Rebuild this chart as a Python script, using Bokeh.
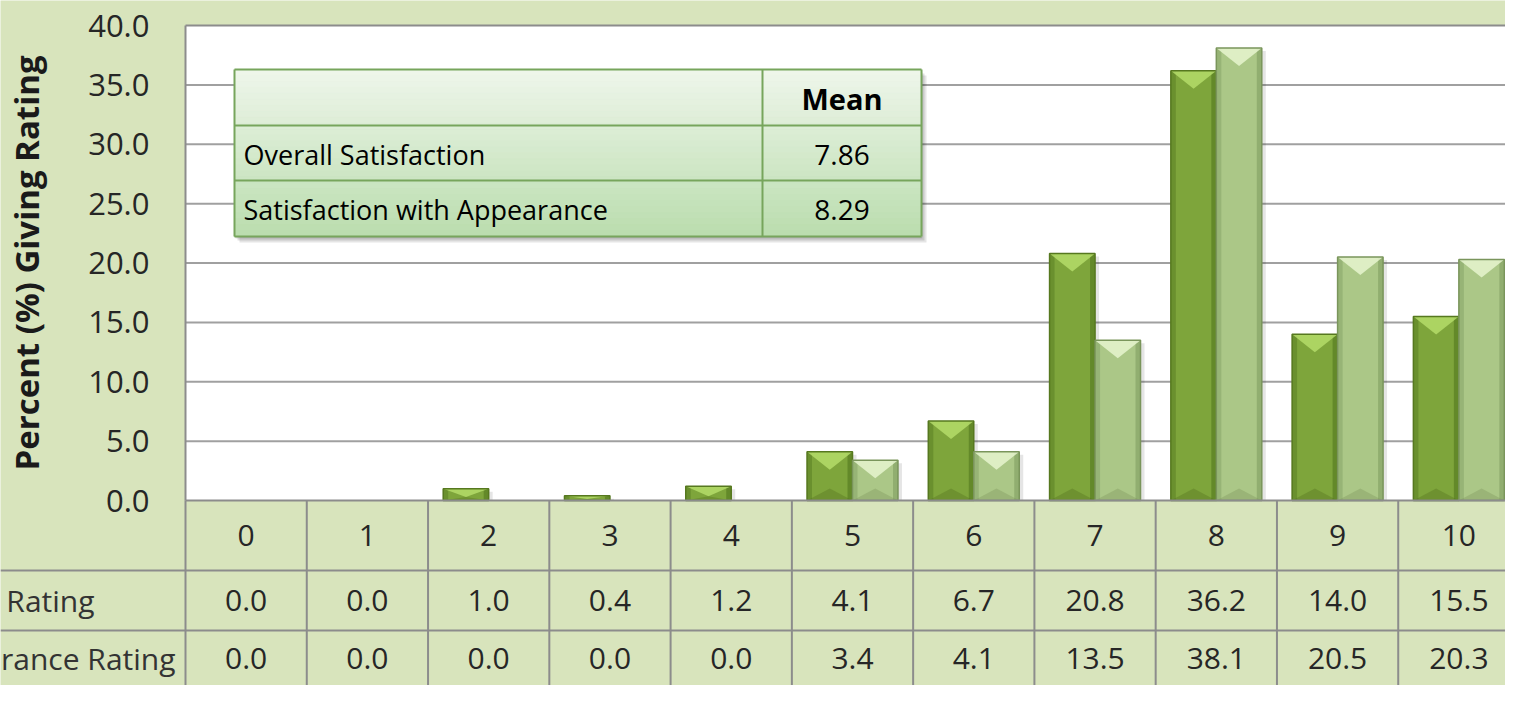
import numpy as np
from bokeh.plotting import figure
from bokeh.models import Range1d, LinearAxis, FixedTicker, NumeralTickFormatter
from bokeh.core.properties import value
from bokeh.embed import file_html
from bokeh.resources import INLINE

# ---------------- data ----------------
categories = ["0", "1", "2", "3", "4", "5", "6", "7", "8", "9", "10"]
overall = [0.0, 0.0, 1.0, 0.4, 1.2, 4.1, 6.7, 20.8, 36.2, 14.0, 15.5]
appearance = [0.0, 0.0, 0.0, 0.0, 0.0, 3.4, 4.1, 13.5, 38.1, 20.5, 20.3]
series_names = ["Overall Satisfaction Rating", "Satisfaction with Appearance Rating"]
mean_header = "Mean"
mean_labels = ["Overall Satisfaction", "Satisfaction with Appearance"]
mean_values = [7.86, 8.29]
y_ticks = [0, 5, 10, 15, 20, 25, 30, 35, 40]
y_title = "Percent (%) Giving Rating"

# ---------------- layout (pixel geometry of the reference) ----------------
W, H, OFF = 1505, 685, 0
PL, PR, PT, PB = 185, 1519, 25, 500
YMAX = 40.0
ncat = len(categories)
cw = (PR - PL) / ncat
ppu = (PB - PT) / YMAX


def dx(px):
    return (px - PL) / cw - 0.5


def dy(py):
    return (PB - py) / ppu


BG = "#d8e4bc"
GRID = "#a0a0a0"
TLINE = "#8c8c8c"
FONT = "Open Sans"

p = figure(width=W, height=H,
           x_range=Range1d(dx(OFF), dx(OFF + W)),
           y_range=Range1d(dy(OFF + H), dy(OFF)),
           output_backend="svg", toolbar_location=None,
           x_axis_location=None, y_axis_location=None,
           min_border=0, background_fill_color=BG, border_fill_color=BG,
           outline_line_color=None)
for g in p.grid:
    g.visible = False

xl, xr = -0.5, ncat - 0.5

# plot area
p.quad(left=[xl], right=[xr], bottom=[0], top=[YMAX], fill_color="white", line_color=None)
grid_y = [t for t in y_ticks if 0 < t < YMAX]
p.segment(x0=[xl] * len(grid_y), x1=[xr] * len(grid_y), y0=grid_y, y1=grid_y,
          line_color=GRID, line_width=2)
p.segment(x0=[xl, xl, xr], x1=[xr, xl, xr], y0=[YMAX, 0, 0], y1=[YMAX, YMAX, YMAX],
          line_color=TLINE, line_width=2)

# ---------------- bars ----------------
bw = 0.375
idx = np.arange(ncat)
styles = [
    dict(fill="#7ea53b", edge="#56781f", side="#5d8226", hi="#b4dc6a", low="#4f6e1c"),
    dict(fill="#abc787", edge="#7a955b", side="#8ba76a", hi="#e6f5cf", low="#7a9358"),
]
sh_dx = 4 / cw
for vals, off, st in zip([overall, appearance], [-bw / 2, bw / 2], styles):
    v = np.asarray(vals, float)
    m = v > 0
    v = v[m]
    cx = idx[m] + off
    l, r = cx - bw / 2, cx + bw / 2
    # soft shadow
    p.quad(left=l + sh_dx, right=r + sh_dx, bottom=0, top=np.maximum(v - 3 / ppu, 0),
           fill_color="black", fill_alpha=0.10, line_color=None)
    p.quad(left=l, right=r, bottom=0, top=v, fill_color=st["fill"], line_color=None)
    sw = 5 / cw
    p.quad(left=l, right=l + sw, bottom=0, top=v, fill_color=st["side"], fill_alpha=0.6, line_color=None)
    p.quad(left=r - sw, right=r, bottom=0, top=v, fill_color=st["side"], fill_alpha=0.8, line_color=None)
    d = np.minimum(18 / ppu, v * 0.7)
    p.patches(xs=[[a, b, c] for a, b, c in zip(l, r, cx)],
              ys=[[t, t, t - dd] for t, dd in zip(v, d)],
              fill_color=st["hi"], fill_alpha=0.85, line_color=None)
    db = np.minimum(12 / ppu, v * 0.3)
    p.patches(xs=[[a, b, c] for a, b, c in zip(l, r, cx)],
              ys=[[0, 0, dd] for dd in db],
              fill_color=st["low"], fill_alpha=0.35, line_color=None)
    p.quad(left=l, right=r, bottom=0, top=v, fill_color=None, line_color=st["edge"], line_width=1.5)

# ---------------- data table ----------------
# rows: header 500-570, row A 570-630, row B 630-685
row_y = [dy(570), dy(630)]
p.segment(x0=[xl] + [dx(0)] * 2, x1=[xr] * 3, y0=[0] + row_y, y1=[0] + row_y,
          line_color=TLINE, line_width=2)
vx = [xl + k for k in range(ncat + 1)]
p.segment(x0=vx, x1=vx, y0=[0] * len(vx), y1=[dy(705)] * len(vx), line_color=TLINE, line_width=2)

p.text(x=idx, y=[dy(535)] * ncat, text=categories, text_align="center", text_baseline="middle",
       text_font=value(FONT), text_font_size="30px", text_color="#262626")
for vals, yc in zip([overall, appearance], [dy(600), dy(658)]):
    p.text(x=idx, y=[yc] * ncat, text=[f"{v:.1f}" for v in vals], text_align="center",
           text_baseline="middle", text_font=value(FONT), text_font_size="30px", text_color="#262626")
p.text(x=[dx(94), dx(175)], y=[dy(600), dy(658)], text=series_names, text_align="right",
       text_baseline="middle", text_font=value(FONT), text_font_size="30px", text_color="#333333")

# ---------------- y axis ----------------
yaxis = LinearAxis(fixed_location=xl, bounds=(0, YMAX), ticker=FixedTicker(ticks=y_ticks),
                   formatter=NumeralTickFormatter(format="0.0"), axis_label=y_title,
                   axis_line_color=None, major_tick_line_color=None, minor_tick_line_color=None,
                   major_tick_out=0, major_tick_in=0, minor_tick_out=0, minor_tick_in=0,
                   major_label_standoff=36, axis_label_standoff=36,
                   major_label_text_font=FONT, major_label_text_font_size="31px",
                   major_label_text_color="#262626",
                   axis_label_text_font=FONT, axis_label_text_font_style="bold",
                   axis_label_text_font_size="33px", axis_label_text_color="#1a1a1a")
p.add_layout(yaxis, "left")

# ---------------- inset mean table ----------------
IL, IM, IR = 234, 762, 921
IT, IB = 69, 236
rows = [69, 125, 180, 236]
for ox, oy, a in [(5, 6, 0.10), (3, 4, 0.12), (1, 2, 0.12)]:
    p.quad(left=[dx(IL + ox)], right=[dx(IR + ox)], bottom=[dy(IB + oy)], top=[dy(IT + oy)],
           fill_color="black", fill_alpha=a, line_color=None)
c0 = np.array([239, 246, 235])
c1 = np.array([186, 221, 174])
n = 28
edges = np.linspace(IT, IB, n + 1)
cols = ["#%02x%02x%02x" % tuple(int(round(c)) for c in c0 + (c1 - c0) * (k + 0.5) / n) for k in range(n)]
p.quad(left=[dx(IL)] * n, right=[dx(IR)] * n, bottom=[dy(e) for e in edges[1:]],
       top=[dy(e) for e in edges[:-1]], fill_color=cols, line_color=cols, line_width=1)
ILINE = "#77a55c"
p.segment(x0=[dx(IL)] * 4 + [dx(IL), dx(IM), dx(IR)], x1=[dx(IR)] * 4 + [dx(IL), dx(IM), dx(IR)],
          y0=[dy(r) for r in rows] + [dy(IT)] * 3, y1=[dy(r) for r in rows] + [dy(IB)] * 3,
          line_color=ILINE, line_width=2)
p.text(x=[dx((IM + IR) / 2)], y=[dy(98)], text=[mean_header], text_align="center",
       text_baseline="middle", text_font=value(FONT), text_font_style="bold",
       text_font_size="29px", text_color="black")
p.text(x=[dx(243)] * 2, y=[dy(154), dy(209)], text=mean_labels, text_align="left",
       text_baseline="middle", text_font=value(FONT), text_font_size="27px", text_color="black")
p.text(x=[dx((IM + IR) / 2)] * 2, y=[dy(154), dy(209)], text=[f"{m:.2f}" for m in mean_values],
       text_align="center", text_baseline="middle", text_font=value(FONT),
       text_font_size="28px", text_color="black")

open("out.html", "w").write(file_html(p, INLINE))
